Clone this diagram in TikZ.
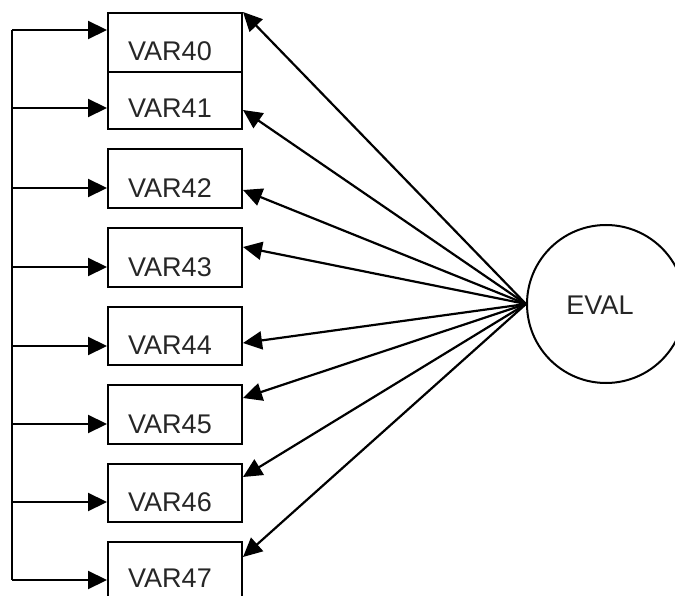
\documentclass[tikz,border=0pt]{standalone}
\usepackage{fontspec}
\setmainfont{Liberation Sans}
\usetikzlibrary{arrows.meta}
\begin{document}
\begin{tikzpicture}[x=1pt,y=-1pt,
  box/.style={draw, line width=2pt, minimum width=134pt, inner sep=0pt, anchor=north west},
  lbl/.style={font=\fontsize{27}{27}\selectfont, text=black!85, inner sep=0pt},
  conn/.style={line width=2.2pt, -{Triangle[length=19pt,width=18pt]}},
  spine/.style={line width=2.2pt}]
\useasboundingbox (0,0) rectangle (675,596);
\clip (0,0) rectangle (675,596);
% boxes
\node[box, minimum height=59pt] (b40) at (107,12) {};
\node[box, minimum height=57pt] (b41) at (107,71) {};
\node[box, minimum height=59pt] (b42) at (107,148) {};
\node[box, minimum height=59pt] (b43) at (107,227) {};
\node[box, minimum height=58pt] (b44) at (107,306) {};
\node[box, minimum height=59pt] (b45) at (107,384) {};
\node[box, minimum height=58pt] (b46) at (107,463) {};
\node[box, minimum height=59pt] (b47) at (107,541) {};
% labels
\node[lbl] (t40) at (170,51) {VAR40};
\node[lbl] (t41) at (170,108) {VAR41};
\node[lbl] (t42) at (170,188) {VAR42};
\node[lbl] (t43) at (170,267) {VAR43};
\node[lbl] (t44) at (170,345) {VAR44};
\node[lbl] (t45) at (170,424) {VAR45};
\node[lbl] (t46) at (170,502) {VAR46};
\node[lbl] (t47) at (170,578) {VAR47};
% latent
\node[draw, circle, line width=2pt, minimum size=158pt, inner sep=0pt] (E) at (606,304) {};
\node[lbl] (tE) at (600,305) {EVAL};
% spine
\coordinate (s40) at (12,30);
\coordinate (s41) at (12,108);
\coordinate (s42) at (12,188);
\coordinate (s43) at (12,267);
\coordinate (s44) at (12,346);
\coordinate (s45) at (12,424);
\coordinate (s46) at (12,502);
\coordinate (s47) at (12,580);
\draw[spine] (s40) -- (s47);
\draw[conn] (s40) -- (b40.west |- s40);
\draw[conn] (s41) -- (b41.west |- s41);
\draw[conn] (s42) -- (b42.west |- s42);
\draw[conn] (s43) -- (b43.west |- s43);
\draw[conn] (s44) -- (b44.west |- s44);
\draw[conn] (s45) -- (b45.west |- s45);
\draw[conn] (s46) -- (b46.west |- s46);
\draw[conn] (s47) -- (b47.west |- s47);
% loadings
\coordinate (e40) at (241,12);
\coordinate (e41) at (241,110);
\coordinate (e42) at (241,190);
\coordinate (e43) at (241,247);
\coordinate (e44) at (241,343);
\coordinate (e45) at (241,398);
\coordinate (e46) at (241,477);
\coordinate (e47) at (241,557);
\foreach \i in {40,...,47} {
  \draw[conn] (E.west) -- (b\i.east |- e\i);
}
\end{tikzpicture}
\end{document}
